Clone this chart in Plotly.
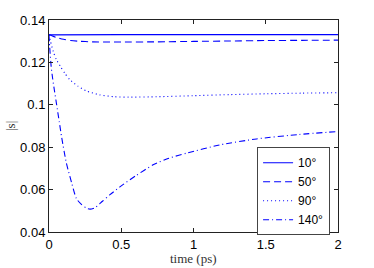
import plotly.graph_objects as go

# Data
t_10 = [0, 0.5, 1.0, 1.5, 2.0]
s_10 = [0.1330, 0.1331, 0.1331, 0.1331, 0.1331]

t_50 = [0, 0.02, 0.05, 0.1, 0.15, 0.2, 0.3, 0.4, 0.5, 0.75, 1.0, 1.25, 1.5, 1.75, 2.0]
s_50 = [0.1332, 0.1326, 0.1318, 0.1309, 0.1303, 0.1300, 0.1297, 0.1296, 0.1296,
        0.1297, 0.1299, 0.1301, 0.1303, 0.1304, 0.1305]

t_90 = [0, 0.01, 0.03, 0.05, 0.08, 0.11, 0.145, 0.2, 0.26, 0.35, 0.45, 0.55,
        0.75, 1.0, 1.25, 1.5, 1.75, 2.0]
s_90 = [0.1330, 0.1300, 0.1250, 0.1215, 0.1180, 0.1148, 0.1118, 0.1088, 0.1065,
        0.1047, 0.1038, 0.1036, 0.1038, 0.1043, 0.1048, 0.1052, 0.1055, 0.1057]

t_140 = [0, 0.005, 0.015, 0.025, 0.037, 0.053, 0.071, 0.088, 0.12, 0.157, 0.19,
         0.226, 0.26, 0.284, 0.32, 0.37, 0.422, 0.491, 0.6, 0.721, 0.83, 0.952,
         1.182, 1.436, 1.73, 2.0]
s_140 = [0.1330, 0.1270, 0.1180, 0.1125, 0.1070, 0.1000, 0.0920, 0.0845, 0.0726,
         0.0631, 0.0557, 0.0529, 0.0512, 0.0508, 0.0515, 0.0545, 0.0576, 0.0613,
         0.0665, 0.0717, 0.0748, 0.0772, 0.0811, 0.0839, 0.0860, 0.0874]

labels = ["10°", "50°", "90°", "140°"]
x_ticks = [0, 0.5, 1, 1.5, 2]
x_tick_text = ["0", "0.5", "1", "1.5", "2"]
y_ticks = [0.04, 0.06, 0.08, 0.1, 0.12, 0.14]
y_tick_text = ["0.04", "0.06", "0.08", "0.1", "0.12", "0.14"]
x_title = "time (ps)"
y_title = "|s|"

blue = "rgb(0,0,255)"
series = [(t_10, s_10, "solid"), (t_50, s_50, "7px,4px"),
          (t_90, s_90, "1px,3px"), (t_140, s_140, "6px,3px,1px,3px")]

fig = go.Figure()
for (t, s, dash), name in zip(series, labels):
    fig.add_trace(go.Scatter(x=t, y=s, mode="lines", name=name,
                             line=dict(color=blue, width=1.1, dash=dash,
                                       shape="spline", smoothing=0.6)))

axis_common = dict(showline=True, linecolor="#222", linewidth=1, mirror="ticks",
                   ticks="inside", ticklen=4, tickcolor="#222", showgrid=False,
                   zeroline=False, automargin=False,
                   tickfont=dict(family="Liberation Sans, Arial", size=13, color="black"))

fig.update_xaxes(range=[0, 2], tickvals=x_ticks, ticktext=x_tick_text, **axis_common)
fig.update_yaxes(range=[0.04, 0.14], tickvals=y_ticks, ticktext=y_tick_text, **axis_common)

title_font = dict(family="Liberation Serif, serif", size=13, color="#333")
fig.add_annotation(text=x_title, xref="paper", yref="paper", x=0.5, y=0,
                   yshift=-26, xanchor="center", yanchor="middle",
                   showarrow=False, font=title_font)
fig.add_annotation(text=y_title, xref="paper", yref="paper", x=0, y=0.5,
                   xshift=-39, xanchor="center", yanchor="middle", textangle=-90,
                   showarrow=False, font=title_font)

fig.update_layout(
    width=374, height=268,
    margin=dict(l=49, r=36, t=20, b=36),
    paper_bgcolor="white", plot_bgcolor="white",
    showlegend=True,
    legend=dict(x=0.72, y=0.40, xanchor="left", yanchor="top",
                bgcolor="white", bordercolor="#444", borderwidth=1,
                font=dict(family="Liberation Sans, Arial", size=12, color="black"),
                itemwidth=30, tracegroupgap=0),
)

fig.write_html("out.html", config={"displayModeBar": False},
               post_script="document.body.style.margin='0';document.body.style.padding='0';")
